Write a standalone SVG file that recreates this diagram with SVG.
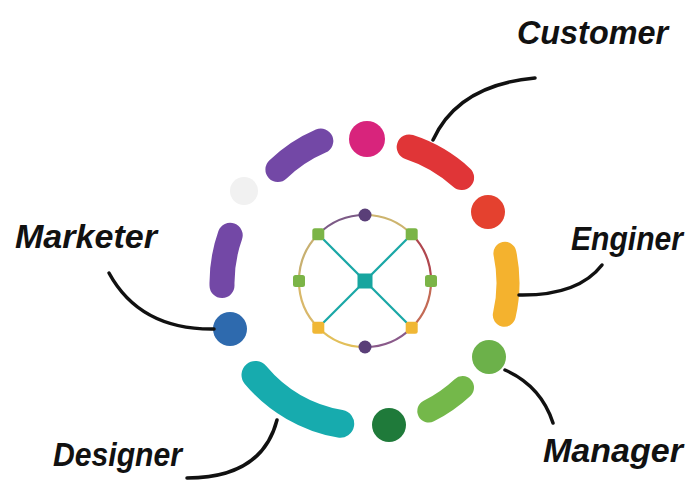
<svg xmlns="http://www.w3.org/2000/svg" width="699" height="482" viewBox="0 0 699 482">
  <style>
    .seg { fill: none; stroke-linecap: round; }
    .lead { fill: none; stroke: #111; stroke-width: 3.5; stroke-linecap: round; }
    .label { font-family: "Liberation Sans", Arial, sans-serif; font-weight: bold; font-style: italic; font-size: 34px; fill: #111; }
    .edge { fill: none; stroke-width: 2.2; }
    .spoke { stroke: #1aa7a6; stroke-width: 2.2; }
  </style>
  <rect width="699" height="482" fill="#ffffff"/>

  <!-- outer ring: arc segments and dots, centre (365,283), r 143 -->
  <g id="ring">
    <path class="seg" d="M409.2,147.0 A143,143 0 0 1 461.6,177.6" stroke="#e03537" stroke-width="25"/>
    <path class="seg" d="M504.9,253.3 A143,143 0 0 1 504.3,315.2" stroke="#f4b22e" stroke-width="23"/>
    <path class="seg" d="M462.5,387.6 A143,143 0 0 1 428.8,411.0" stroke="#74b84a" stroke-width="23"/>
    <path class="seg" d="M340.2,423.8 A143,143 0 0 1 255.5,374.9" stroke="#17abae" stroke-width="28"/>
    <path class="seg" d="M222.0,285.5 A143,143 0 0 1 230.2,235.3" stroke="#7348a6" stroke-width="25"/>
    <path class="seg" d="M277.9,169.5 A143,143 0 0 1 320.8,141.0" stroke="#7348a6" stroke-width="25"/>
    <circle cx="367" cy="139" r="18" fill="#d8247c"/>
    <circle cx="488" cy="212" r="17" fill="#e4412f"/>
    <circle cx="489" cy="357" r="17" fill="#6cb14a"/>
    <circle cx="389" cy="425" r="17" fill="#1f7a3a"/>
    <circle cx="230" cy="329" r="17" fill="#2e6aae"/>
    <circle cx="244" cy="191" r="14" fill="#f1f1f1"/>
  </g>

  <!-- inner network: centre (365,281), r 66 -->
  <g id="network">
    <path class="edge" d="M365,215 A66,66 0 0 1 411.7,234.3" stroke="#cdb46e"/>
    <path class="edge" d="M411.7,234.3 A66,66 0 0 1 431,281" stroke="#b0474f"/>
    <path class="edge" d="M431,281 A66,66 0 0 1 411.7,327.7" stroke="#c36a55"/>
    <path class="edge" d="M411.7,327.7 A66,66 0 0 1 365,347" stroke="#8a5a8a"/>
    <path class="edge" d="M365,347 A66,66 0 0 1 318.3,327.7" stroke="#e2bf5a"/>
    <path class="edge" d="M318.3,327.7 A66,66 0 0 1 299,281" stroke="#d9b86a"/>
    <path class="edge" d="M299,281 A66,66 0 0 1 318.3,234.3" stroke="#c8b070"/>
    <path class="edge" d="M318.3,234.3 A66,66 0 0 1 365,215" stroke="#7c5a86"/>
    <line class="spoke" x1="365" y1="281" x2="318.3" y2="234.3"/>
    <line class="spoke" x1="365" y1="281" x2="411.7" y2="234.3"/>
    <line class="spoke" x1="365" y1="281" x2="318.3" y2="327.7"/>
    <line class="spoke" x1="365" y1="281" x2="411.7" y2="327.7"/>
    <rect x="357.5" y="273.5" width="15" height="15" rx="2" fill="#17a59f"/>
    <circle cx="365" cy="215" r="6.5" fill="#5a3f78"/>
    <circle cx="365" cy="347" r="6.5" fill="#5a3f78"/>
    <rect x="312.3" y="228.3" width="12" height="12" rx="2.5" fill="#7bb447"/>
    <rect x="405.7" y="228.3" width="12" height="12" rx="2.5" fill="#7bb447"/>
    <rect x="293" y="275" width="12" height="12" rx="2.5" fill="#7bb447"/>
    <rect x="425" y="275" width="12" height="12" rx="2.5" fill="#7bb447"/>
    <rect x="312.3" y="321.7" width="12" height="12" rx="2.5" fill="#f0b735"/>
    <rect x="405.7" y="321.7" width="12" height="12" rx="2.5" fill="#f0b735"/>
  </g>

  <!-- leader lines from the ring to the role labels -->
  <g id="connectors">
    <path class="lead" d="M433,140 Q458,85 535,78"/>
    <path class="lead" d="M519,295 Q578,296 602,265"/>
    <path class="lead" d="M505,370 Q541,386 553,423"/>
    <path class="lead" d="M277,420 Q262,478 187,478"/>
    <path class="lead" d="M109,273 Q140,330 214,329"/>
  </g>

  <g id="customer"><text class="label" x="517" y="44" textLength="151" lengthAdjust="spacingAndGlyphs">Customer</text></g>
  <g id="enginer"><text class="label" x="571" y="250" textLength="112" lengthAdjust="spacingAndGlyphs">Enginer</text></g>
  <g id="manager"><text class="label" x="543" y="462" textLength="140" lengthAdjust="spacingAndGlyphs">Manager</text></g>
  <g id="designer"><text class="label" x="53" y="466" textLength="129" lengthAdjust="spacingAndGlyphs">Designer</text></g>
  <g id="marketer"><text class="label" x="15" y="248" textLength="142" lengthAdjust="spacingAndGlyphs">Marketer</text></g>
</svg>
